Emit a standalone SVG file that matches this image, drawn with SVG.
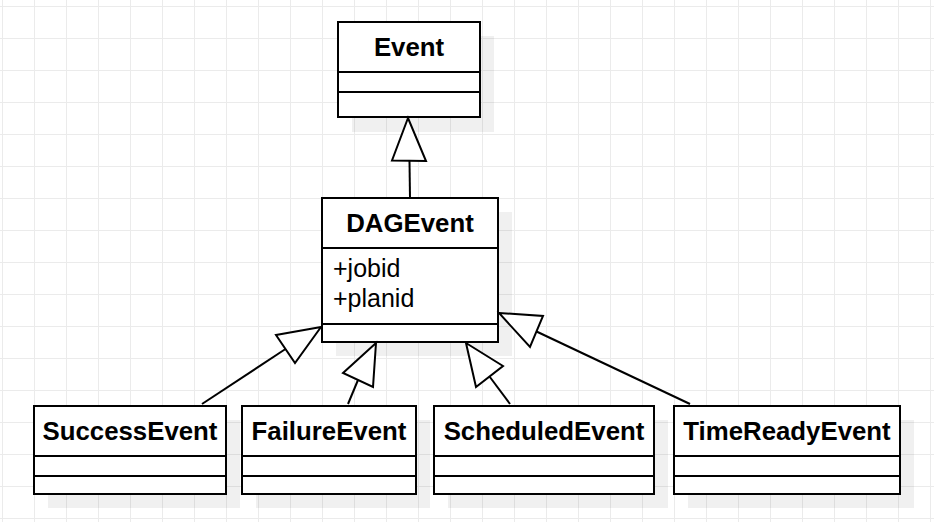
<svg xmlns="http://www.w3.org/2000/svg" width="934" height="522" viewBox="0 0 934 522">
<defs>
<pattern id="grid" x="2" y="6" width="32" height="32" patternUnits="userSpaceOnUse">
<path d="M0.5 0 V32 M0 0.5 H32" fill="none" stroke="#ebebeb" stroke-width="1"/>
</pattern>
</defs>
<style>
.box{fill:#fff;stroke:#000;stroke-width:2}
.shadow{fill:#000;fill-opacity:0.06}
.div{stroke:#000;stroke-width:2}
.title{font-family:"Liberation Sans",Arial,sans-serif;font-weight:bold;font-size:25.8px;text-anchor:middle;fill:#000}
.attr{font-family:"Liberation Sans",Arial,sans-serif;font-size:25px;fill:#000}
.conn line{stroke:#000;stroke-width:2}
.conn polygon{fill:#fff;stroke:#000;stroke-width:2;stroke-linejoin:miter}
</style>
<rect width="934" height="522" fill="#fff"/>
<rect width="934" height="522" fill="url(#grid)"/>

<g id="Event">
<rect class="shadow" x="352" y="36" width="142" height="96"/>
<rect class="box" x="338" y="22" width="142" height="95"/>
<line class="div" x1="338" y1="72" x2="480" y2="72"/>
<line class="div" x1="338" y1="92" x2="480" y2="92"/>
<text class="title" x="409" y="56">Event</text>
</g>

<g id="DAGEvent">
<rect class="shadow" x="336" y="212" width="176" height="144"/>
<rect class="box" x="322" y="198" width="176" height="144"/>
<line class="div" x1="322" y1="248" x2="498" y2="248"/>
<line class="div" x1="322" y1="324" x2="498" y2="324"/>
<text class="title" x="410" y="232">DAGEvent</text>
<text class="attr" x="333" y="277">+jobid</text>
<text class="attr" x="333" y="307">+planid</text>
</g>

<g id="SuccessEvent">
<rect class="shadow" x="48" y="420" width="192" height="88"/>
<rect class="box" x="34" y="406" width="192" height="88"/>
<line class="div" x1="34" y1="456" x2="226" y2="456"/>
<line class="div" x1="34" y1="476" x2="226" y2="476"/>
<text class="title" x="130" y="440">SuccessEvent</text>
</g>

<g id="FailureEvent">
<rect class="shadow" x="256" y="420" width="174" height="88"/>
<rect class="box" x="242" y="406" width="174" height="88"/>
<line class="div" x1="242" y1="456" x2="416" y2="456"/>
<line class="div" x1="242" y1="476" x2="416" y2="476"/>
<text class="title" x="329" y="440">FailureEvent</text>
</g>

<g id="ScheduledEvent">
<rect class="shadow" x="448" y="420" width="220" height="88"/>
<rect class="box" x="434" y="406" width="220" height="88"/>
<line class="div" x1="434" y1="456" x2="654" y2="456"/>
<line class="div" x1="434" y1="476" x2="654" y2="476"/>
<text class="title" x="544" y="440">ScheduledEvent</text>
</g>

<g id="TimeReadyEvent">
<rect class="shadow" x="688" y="420" width="226" height="88"/>
<rect class="box" x="674" y="406" width="226" height="88"/>
<line class="div" x1="674" y1="456" x2="900" y2="456"/>
<line class="div" x1="674" y1="476" x2="900" y2="476"/>
<text class="title" x="787" y="440">TimeReadyEvent</text>
</g>

<g id="connectors" class="conn">
<line x1="410" y1="198" x2="409.5" y2="161"/>
<polygon points="408,118 392,160.5 426,161"/>
<line x1="202" y1="404" x2="285.5" y2="349"/>
<polygon points="321,327 276,335 295,363"/>
<line x1="348" y1="404" x2="358" y2="380"/>
<polygon points="376,343 343,373 373,387"/>
<line x1="510" y1="404" x2="489.5" y2="376.5"/>
<polygon points="466,343 503,366 476,387"/>
<line x1="690" y1="404" x2="536.5" y2="331.5"/>
<polygon points="499,313 543,316 530,347"/>
</g>
</svg>
